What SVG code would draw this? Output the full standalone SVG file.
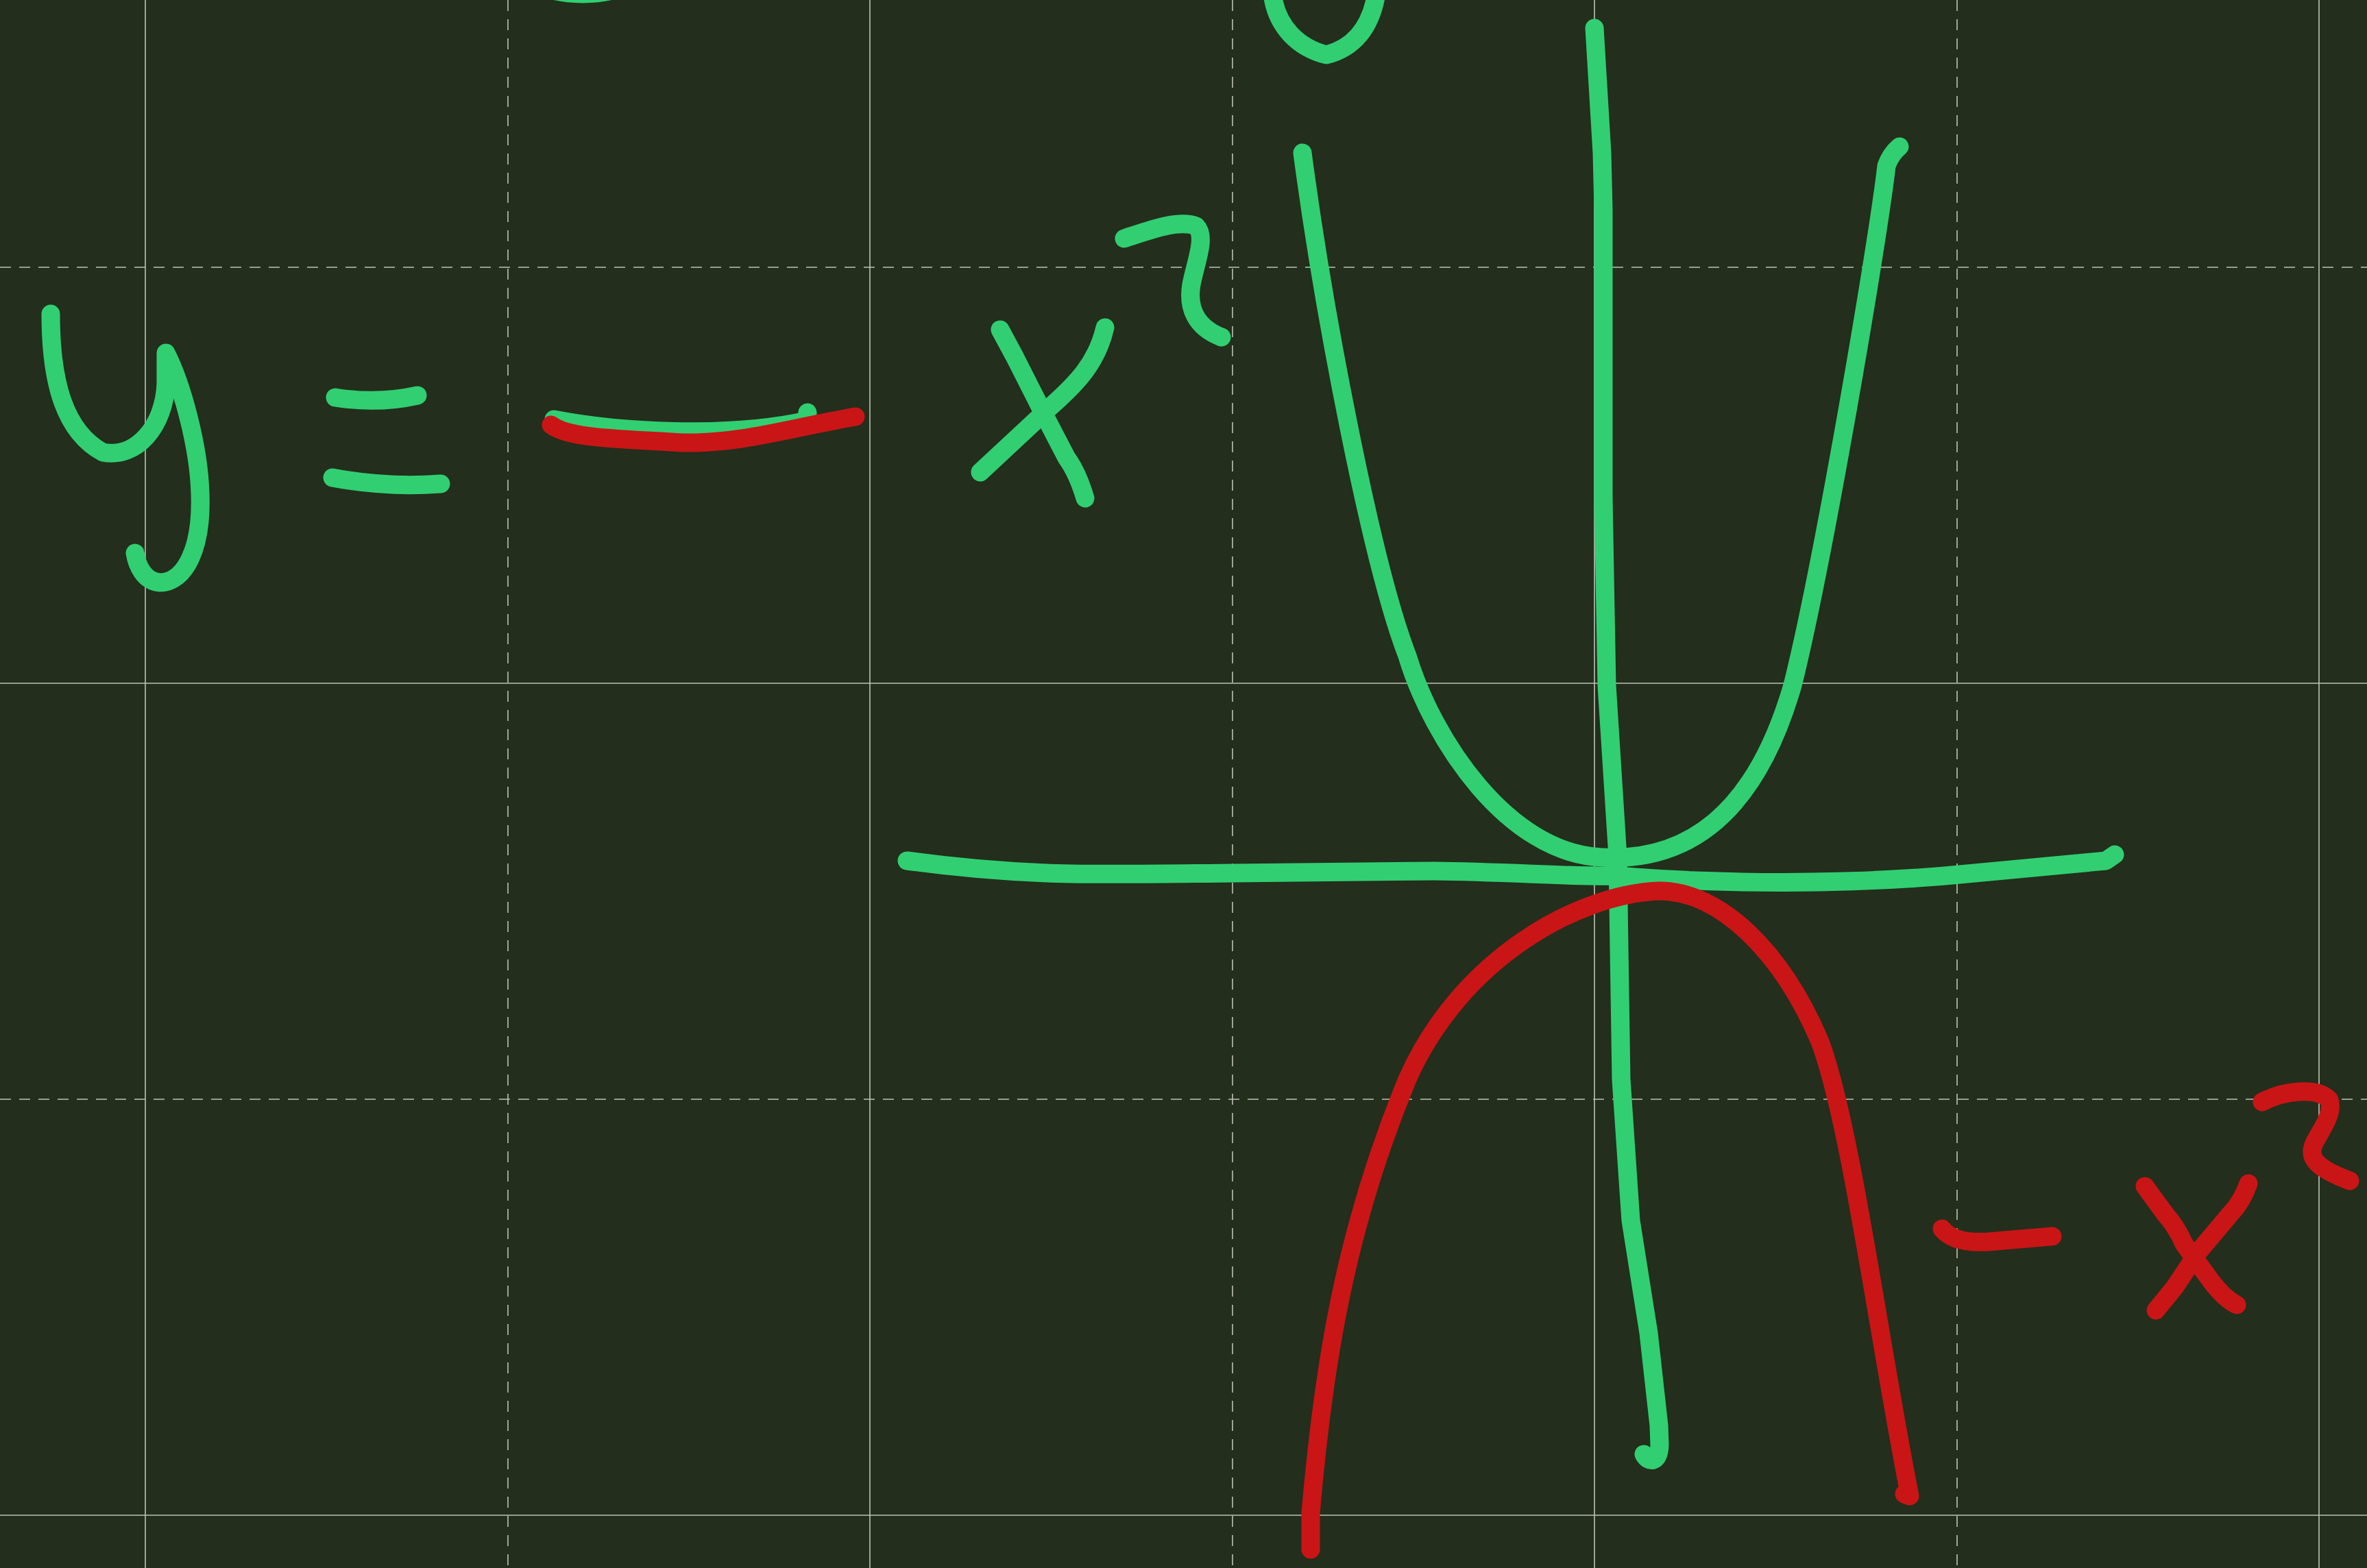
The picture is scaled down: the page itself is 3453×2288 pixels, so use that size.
<svg xmlns="http://www.w3.org/2000/svg" width="3453" height="2288" viewBox="0 0 3453 2288">
<style>
.g{fill:none;stroke:#31cf72;stroke-width:27;stroke-linecap:round;stroke-linejoin:round}
.r{fill:none;stroke:#c91516;stroke-width:27;stroke-linecap:round;stroke-linejoin:round}
.gs{stroke:#bfc2b8;stroke-width:1.6;fill:none}
.gd{stroke:#bfc2b8;stroke-width:1.6;fill:none;stroke-dasharray:16 12}
</style>
<rect x="0" y="0" width="3453" height="2288" fill="#232e1c"/>
<g id="grid">
<line class="gs" x1="212" y1="0" x2="212" y2="2288"/>
<line class="gd" x1="741" y1="0" x2="741" y2="2288"/>
<line class="gs" x1="1269" y1="0" x2="1269" y2="2288"/>
<line class="gd" x1="1798" y1="0" x2="1798" y2="2288"/>
<line class="gs" x1="2326" y1="0" x2="2326" y2="2288"/>
<line class="gd" x1="2855" y1="0" x2="2855" y2="2288"/>
<line class="gs" x1="3383" y1="0" x2="3383" y2="2288"/>
<line class="gd" x1="0" y1="390" x2="3453" y2="390"/>
<line class="gs" x1="0" y1="997" x2="3453" y2="997"/>
<line class="gd" x1="0" y1="1604" x2="3453" y2="1604"/>
<line class="gs" x1="0" y1="2211" x2="3453" y2="2211"/>
</g>
<g id="top-fragments">
<path class="g" d="M772,-34 Q790,-10 850,-9 Q905,-10 925,-30"/>
<path class="g" d="M1856,-10 C1862,40 1895,70 1935,80 C1975,70 2000,40 2008,-10"/>
</g>
<g id="equation-green">
<path class="g" d="M74,458 C74,560 95,630 150,660 C200,670 240,620 242,560 L242,515 C265,560 290,650 292,720 C295,800 270,850 233,850 C210,848 200,825 197,807"/>
<path class="g" d="M489,580 Q551,590 609,577"/>
<path class="g" d="M485,697 Q564,712 643,706"/>
<path class="g" d="M808,612 C900,630 1060,640 1177,614 L1178,602"/>
<path class="g" d="M1459,481 L1480,520 L1518,595 L1556,668 Q1572,690 1583,727"/>
<path class="g" d="M1612,478 C1600,530 1570,560 1533,593 L1430,689"/>
<path class="g" d="M1640,348 C1680,335 1720,320 1745,330 C1760,345 1745,380 1738,415 C1732,450 1745,478 1782,492"/>
</g>
<g id="parabola-green">
<path class="g" d="M1900,223 C1930,450 2000,820 2053,957 C2090,1080 2200,1245 2336,1251 C2460,1258 2560,1190 2615,1000 C2660,820 2740,350 2752,242 Q2758,225 2771,214"/>
</g>
<g id="axes-green">
<path class="g" d="M1323,1256 C1500,1280 1600,1276 1800,1274 L2092,1271 C2200,1272 2300,1280 2360,1278 C2500,1290 2700,1292 2870,1275 L3072,1256 L3085,1247"/>
<path class="g" d="M2326,41 L2337,223 L2339,306 L2339,727 L2344,1000 L2360,1250 L2362,1383 L2365,1575 L2379,1781 L2405,1945 L2420,2080 L2421,2109 C2420,2135 2405,2135 2398,2122"/>
</g>
<g id="parabola-red">
<path class="r" d="M1912,2261 L1912,2208 C1930,2000 1960,1800 2053,1575 C2130,1400 2300,1305 2420,1300 C2510,1300 2600,1390 2655,1520 C2700,1640 2740,1950 2786,2183 L2778,2180"/>
</g>
<g id="equation-red">
<path class="r" d="M804,620 C830,640 900,640 995,646 C1080,648 1150,625 1248,608"/>
<path class="r" d="M2833,1793 Q2850,1815 2900,1812 L2994,1804"/>
<path class="r" d="M3129,1731 L3159,1772 Q3175,1790 3186,1815 L3226,1870 Q3245,1895 3263,1904"/>
<path class="r" d="M3280,1727 Q3270,1755 3253,1772 L3206,1828 L3172,1879 L3145,1912"/>
<path class="r" d="M3300,1608 C3330,1592 3380,1585 3398,1605 C3405,1625 3385,1650 3376,1668 C3366,1690 3380,1705 3428,1723"/>
</g>
</svg>
